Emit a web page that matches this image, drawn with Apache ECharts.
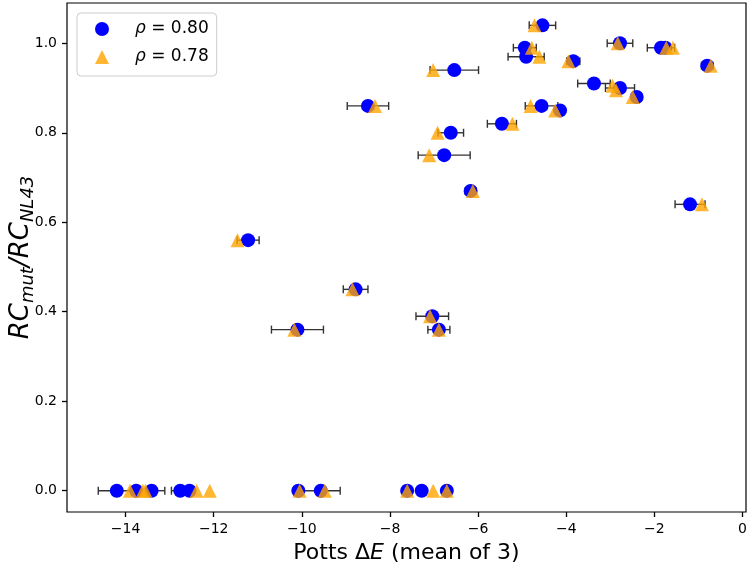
<!DOCTYPE html>
<html><head><meta charset="utf-8">
<script src="https://cdn.jsdelivr.net/npm/echarts@6/dist/echarts.min.js"></script>
<style>html,body{margin:0;padding:0;background:#fff}#c{width:750px;height:570px}</style>
</head><body><div id="c"></div>
<script>
// rho = 0.80 series (blue circles) with horizontal error (half-width)
const circleX = [-4.54,-4.94,-4.91,-3.84,-2.78,-1.85,-1.75,-0.80,-6.54,-3.37,-2.78,-2.40,-4.56,-4.14,-5.46,-6.62,-6.77,-8.50,-6.17,-1.19,-11.22,-8.78,-7.04,-6.89,-10.10,
                 -14.20,-13.76,-13.41,-12.76,-12.55,-10.08,-9.57,-7.61,-7.28,-6.71];
const circleY = [1.04,0.99,0.97,0.96,1.00,0.99,0.99,0.95,0.94,0.91,0.90,0.88,0.86,0.85,0.82,0.80,0.75,0.86,0.67,0.64,0.56,0.45,0.39,0.36,0.36,
                 0,0,0,0,0,0,0,0,0,0];
const circleErr = [0.30,0.26,0.41,0.15,0.29,0.31,0.05,0.13,0.55,0.37,0.33,0.05,0.37,0.09,0.33,0.29,0.59,0.47,0.12,0.34,0.25,0.28,0.37,0.25,0.59,
                   0.42,0.05,0.30,0.20,0.05,0.05,0.44,0.05,0.05,0.05];
// rho = 0.78 series (orange triangles)
const triX = [-4.72,-4.78,-4.61,-3.95,-2.83,-1.73,-1.58,-0.72,-7.02,-2.95,-2.87,-2.49,-4.81,-4.25,-5.22,-6.92,-7.11,-8.34,-6.12,-0.92,-11.46,-8.85,-7.09,-6.89,-10.17,
              -13.90,-13.61,-13.55,-12.39,-12.09,-10.05,-9.48,-7.61,-7.02,-6.71];
const triY = [1.04,0.99,0.97,0.96,1.00,0.99,0.99,0.95,0.94,0.905,0.895,0.88,0.86,0.85,0.82,0.80,0.75,0.86,0.67,0.64,0.56,0.45,0.39,0.36,0.36,
              0,0,0,0,0,0,0,0,0,0];
const xTicks = [-14,-12,-10,-8,-6,-4,-2,0];
const yTicks = [0,0.2,0.4,0.6,0.8,1.0];
const seriesNames = ['ρ = 0.80','ρ = 0.78'];

const FONT = 'DejaVu Sans';
const chart = echarts.init(document.getElementById('c'), null, {renderer:'canvas'});
const errData = circleX.map((x,i)=>[x, circleY[i], circleErr[i]]);
const circleData = circleX.map((x,i)=>[x, circleY[i]]);
const triData = triX.map((x,i)=>[x, triY[i]]);

const option = {
  animation:false,
  backgroundColor:'#fff',
  grid:{left:67,right:4,top:3,bottom:58,containLabel:false,outerBoundsMode:'none',show:true,borderColor:'#000',borderWidth:1.2,backgroundColor:'transparent'},
  xAxis:{type:'value',min:-15.33,max:0.08,
    axisLine:{show:false,onZero:false}, splitLine:{show:false},
    axisTick:{show:true,customValues:xTicks,length:5,lineStyle:{color:'#000',width:1.3}},
    axisLabel:{customValues:xTicks,formatter:v=>String(v).replace('-','\u2212'),fontFamily:FONT,fontSize:14,color:'#000',margin:10},
    name:'Potts Δ{i|E} (mean of 3)', nameLocation:'middle', nameGap:30, nameMoveOverlap:false,
    nameTextStyle:{fontFamily:FONT,fontSize:22,color:'#000',rich:{i:{fontFamily:FONT,fontStyle:'italic',fontSize:22,color:'#000'}}}
  },
  yAxis:{type:'value',min:-0.0476,max:1.09,
    axisLine:{show:false,onZero:false}, splitLine:{show:false},
    axisTick:{show:true,customValues:yTicks,length:5,lineStyle:{color:'#000',width:1.3}},
    axisLabel:{customValues:yTicks,formatter:v=>v.toFixed(1),fontFamily:FONT,fontSize:14,color:'#000',margin:10},
    name:'{r|RC}{s|mut}{r|/RC}{s|NL43}', nameLocation:'middle', nameGap:31, nameRotate:90, nameMoveOverlap:false,
    nameTextStyle:{fontFamily:FONT,fontSize:26,color:'#000',
      rich:{r:{fontFamily:FONT,fontStyle:'italic',fontSize:26,color:'#000',lineHeight:30},
            s:{fontFamily:FONT,fontStyle:'italic',fontSize:18,color:'#000',lineHeight:18,padding:[14,0,0,0]}}}
  },
  legend:{left:77,top:13,orient:'vertical',data:seriesNames,
    padding:[6,8,9,18],itemWidth:14,itemHeight:14,itemGap:8,
    backgroundColor:'rgba(255,255,255,0.8)',borderColor:'#cccccc',borderWidth:1,borderRadius:4,
    formatter:n=>'{i|ρ}'+n.slice(1),
    textStyle:{fontFamily:FONT,fontSize:17,color:'#000',lineHeight:20,
      rich:{i:{fontFamily:FONT,fontStyle:'italic',fontSize:17,color:'#000',lineHeight:20,padding:[0,0,0,21]}}}
  },
  series:[
    {type:'custom',name:'err',z:2,data:errData,encode:{x:0,y:1},silent:true,
      renderItem:(params,api)=>{
        const x=api.value(0), y=api.value(1), e=api.value(2);
        const p1=api.coord([x-e,y]), p2=api.coord([x+e,y]);
        const c=4, st={stroke:'#333',lineWidth:1.4};
        return {type:'group',children:[
          {type:'line',shape:{x1:p1[0],y1:p1[1],x2:p2[0],y2:p2[1]},style:st},
          {type:'line',shape:{x1:p1[0],y1:p1[1]-c,x2:p1[0],y2:p1[1]+c},style:st},
          {type:'line',shape:{x1:p2[0],y1:p2[1]-c,x2:p2[0],y2:p2[1]+c},style:st}
        ]};
      }},
    {type:'scatter',name:seriesNames[0],z:3,symbol:'circle',symbolSize:14,data:circleData,
      itemStyle:{color:'#0000ff',opacity:1}},
    {type:'scatter',name:seriesNames[1],z:4,symbol:'triangle',symbolSize:14,data:triData,
      itemStyle:{color:'#ffa500',opacity:0.8}}
  ]
};
chart.setOption(option);
</script></body></html>
